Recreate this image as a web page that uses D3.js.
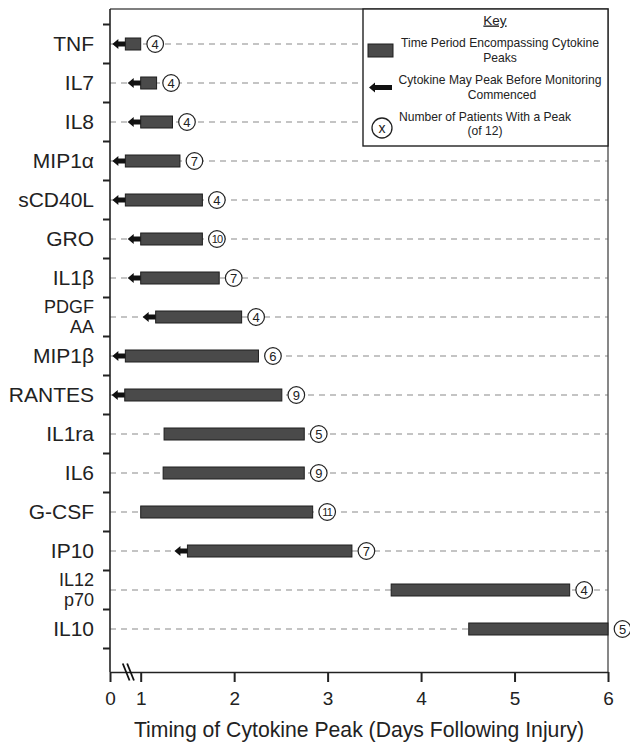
<!DOCTYPE html>
<html>
<head>
<meta charset="utf-8">
<script src="https://cdn.jsdelivr.net/npm/d3@7/dist/d3.min.js"></script>
<style>
  html, body { margin: 0; padding: 0; background: #fff; }
  svg { display: block; font-family: "Liberation Sans", Arial, Helvetica, sans-serif; }
</style>
</head>
<body>
<svg id="chart" width="630" height="742"></svg>
<script>
// Cytokines, in display order (multi-line names split with "\n")
const cytokines = ["TNF", "IL7", "IL8", "MIP1\u03b1", "sCD40L", "GRO", "IL1\u03b2", "PDGF\nAA",
  "MIP1\u03b2", "RANTES", "IL1ra", "IL6", "G-CSF", "IP10", "IL12\np70", "IL10"];
// Start and end of the time period encompassing the peaks (days after injury)
const peakStart = [0.5, 1.0, 1.0, 0.5, 0.5, 1.0, 1.0, 1.16, 0.5, 0.48, 1.25, 1.24, 1.0, 1.5, 3.68, 4.51];
const peakEnd   = [1.0, 1.17, 1.34, 1.42, 1.66, 1.66, 1.84, 2.08, 2.26, 2.51, 2.75, 2.75, 2.84, 3.26, 5.59, 6.0];
// Whether the cytokine may have peaked before monitoring began
const earlyPeak = [1, 1, 1, 1, 1, 1, 1, 1, 1, 1, 0, 0, 0, 1, 0, 0];
// Number of patients (of 12) with a peak
const patients  = [4, 4, 4, 7, 4, 10, 7, 4, 6, 9, 5, 9, 11, 7, 4, 5];
// Day ticks on the (broken) time axis
const dayTicks  = [0, 1, 2, 3, 4, 5, 6];

(function draw() {
  const svg = d3.select("#chart");
  const mLeft = 110, mRight = 608, mTop = 9, mBottom = 672;

  // Broken axis: 0–1 compressed, 1–6 linear
  const x = d3.scaleLinear().domain([0, 1, 6]).range([mLeft, 140.7, mRight]);
  const y = d3.scaleBand().domain(cytokines).range([24.5, 648.5]).padding(0);
  const cy = d => y(d) + y.bandwidth() / 2;

  const rows = cytokines.map((name, i) => ({
    name, start: peakStart[i], end: peakEnd[i], early: earlyPeak[i], n: patients[i]
  }));

  // Dashed guide lines
  svg.append("g").selectAll("line").data(rows).join("line")
    .attr("x1", mLeft).attr("x2", mRight)
    .attr("y1", d => cy(d.name)).attr("y2", d => cy(d.name))
    .attr("stroke", "#8a8a8a").attr("stroke-width", 1.1)
    .attr("stroke-dasharray", "6,5");

  // Frame (top and right)
  svg.append("path")
    .attr("d", `M${mLeft},${mTop}H${mRight}V${mBottom}`)
    .attr("fill", "none").attr("stroke", "#555").attr("stroke-width", 1.4);

  // Bars
  const barH = 12;
  svg.append("g").selectAll("rect").data(rows).join("rect")
    .attr("x", d => x(d.start))
    .attr("y", d => cy(d.name) - barH / 2)
    .attr("width", d => x(d.end) - x(d.start))
    .attr("height", barH)
    .attr("fill", "#4a4a4a").attr("stroke", "#1e1e1e").attr("stroke-width", 1);

  // Arrows for possible early peaks
  function arrowPath(xr, yc, len) {
    const head = 6, shaft = 2.6, hw = 5;
    const tip = xr - len;
    return `M${xr},${yc - shaft}H${tip + head}V${yc - hw}L${tip},${yc}L${tip + head},${yc + hw}V${yc + shaft}H${xr}Z`;
  }
  svg.append("g").selectAll("path").data(rows.filter(d => d.early)).join("path")
    .attr("d", d => arrowPath(x(d.start), cy(d.name), 13))
    .attr("fill", "#111");

  // Patient count markers
  const r = 8.3;
  const marks = svg.append("g").selectAll("g").data(rows).join("g")
    .attr("transform", d => `translate(${x(d.end) + 14.5},${cy(d.name)})`);
  marks.append("circle").attr("r", r)
    .attr("fill", "#fff").attr("stroke", "#222").attr("stroke-width", 1.2);
  marks.append("text")
    .attr("text-anchor", "middle").attr("dy", "0.36em")
    .attr("font-size", d => d.n >= 10 ? 11 : 13)
    .attr("letter-spacing", d => d.n >= 10 ? -0.9 : 0)
    .attr("fill", "#222")
    .text(d => d.n);

  // Left axis with ticks between categories
  const yAxis = svg.append("g");
  yAxis.append("line").attr("x1", mLeft).attr("x2", mLeft).attr("y1", mTop).attr("y2", mBottom)
    .attr("stroke", "#222").attr("stroke-width", 1.6);
  const tickYs = cytokines.map(c => y(c)).concat([y(cytokines[cytokines.length - 1]) + y.bandwidth()]);
  yAxis.selectAll("line.tick").data(tickYs).join("line").attr("class", "tick")
    .attr("x1", mLeft - 7).attr("x2", mLeft).attr("y1", d => d).attr("y2", d => d)
    .attr("stroke", "#222").attr("stroke-width", 2);
  const labels = yAxis.selectAll("text").data(cytokines).join("text")
    .attr("text-anchor", "end").attr("fill", "#222")
    .attr("font-size", d => d.includes("\n") ? 18 : 21)
    .attr("transform", d => `translate(94,${cy(d)})`);
  labels.each(function(d) {
    const lines = d.split("\n");
    const t = d3.select(this);
    const lh = 20.5;
    lines.forEach((ln, i) => {
      t.append("tspan").attr("x", 0)
        .attr("y", (i - (lines.length - 1) / 2) * lh)
        .attr("dy", "0.34em").text(ln);
    });
  });

  // Bottom axis
  const xAxis = svg.append("g").attr("transform", `translate(0,${mBottom})`)
    .call(d3.axisBottom(x).tickValues(dayTicks).tickFormat(d3.format("d"))
      .tickSize(10).tickSizeOuter(0).tickPadding(10));
  xAxis.select(".domain").attr("stroke", "#222").attr("stroke-width", 1.6);
  xAxis.selectAll(".tick line").attr("stroke", "#222").attr("stroke-width", 2);
  xAxis.selectAll(".tick text").attr("font-size", 19).attr("fill", "#222")
    .attr("font-family", "'Liberation Sans', Arial, sans-serif");

  // Axis break marks between 0 and 1
  const bx = (x(0) + x(1)) / 2 + 3;
  [-2.2, 2.2].forEach(off => {
    svg.append("line")
      .attr("x1", bx + off - 3.4).attr("y1", mBottom - 8.5)
      .attr("x2", bx + off + 3.4).attr("y2", mBottom + 8.5)
      .attr("stroke", "#111").attr("stroke-width", 1.8);
  });

  // Axis title
  svg.append("text")
    .attr("x", (mLeft + mRight) / 2).attr("y", 737)
    .attr("text-anchor", "middle").attr("font-size", 21.2).attr("fill", "#222")
    .text("Timing of Cytokine Peak (Days Following Injury)");

  // Key
  const key = svg.append("g");
  key.append("rect").attr("x", 363).attr("y", mTop).attr("width", mRight - 363).attr("height", 137)
    .attr("fill", "#fff").attr("stroke", "#222").attr("stroke-width", 1.4);
  key.append("text").attr("x", 495).attr("y", 24.5).attr("text-anchor", "middle")
    .attr("font-size", 13.5).attr("fill", "#222").attr("text-decoration", "underline").text("Key");
  key.append("rect").attr("x", 368).attr("y", 44).attr("width", 25).attr("height", 13)
    .attr("fill", "#4a4a4a").attr("stroke", "#1e1e1e");
  key.append("path").attr("d", arrowPath(392, 87.5, 23)).attr("fill", "#111");
  key.append("circle").attr("cx", 382).attr("cy", 128).attr("r", 10)
    .attr("fill", "#fff").attr("stroke", "#222").attr("stroke-width", 1.3);
  key.append("text").attr("x", 382).attr("y", 128).attr("dy", "0.35em")
    .attr("text-anchor", "middle").attr("font-size", 14).attr("fill", "#222").text("x");
  const keyText = [
    ["Time Period Encompassing Cytokine", 500, 46.5],
    ["Peaks", 500, 61.5],
    ["Cytokine May Peak Before Monitoring", 500, 83.5],
    ["Commenced", 502, 98.5],
    ["Number of Patients With a Peak", 485, 120.5],
    ["(of 12)", 485, 135]
  ];
  key.selectAll("text.k").data(keyText).join("text").attr("class", "k")
    .attr("x", d => d[1]).attr("y", d => d[2]).attr("text-anchor", "middle")
    .attr("font-size", 12.1).attr("fill", "#222").text(d => d[0]);
})();
</script>
</body>
</html>
